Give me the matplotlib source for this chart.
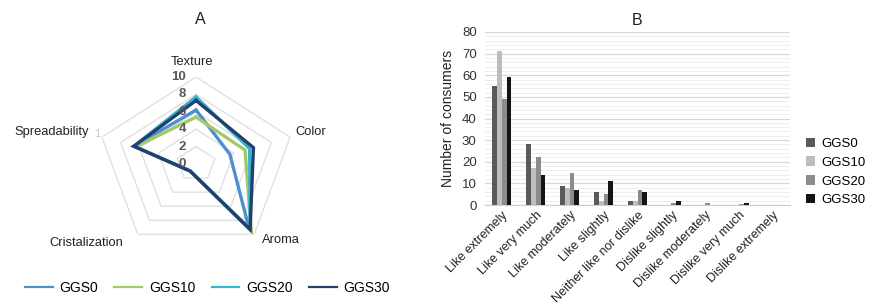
import numpy as np
import matplotlib
matplotlib.use("Agg")
import matplotlib.pyplot as plt
from matplotlib.lines import Line2D
from matplotlib.patches import Patch

plt.rcParams['font.family'] = ['Liberation Sans', 'DejaVu Sans']

# ---------------- data ----------------
attributes = ["Texture", "Color", "Aroma", "Cristalization", "Spreadability"]
samples = ["GGS0", "GGS10", "GGS20", "GGS30"]
radar_ggs0 = [6.2, 3.6, 9.1, 1.0, 6.6]
radar_ggs10 = [5.4, 5.2, 9.5, 1.0, 6.4]
radar_ggs20 = [7.7, 5.7, 9.3, 1.0, 6.6]
radar_ggs30 = [7.3, 6.1, 9.3, 1.0, 6.6]
radar_ticks = [0, 2, 4, 6, 8, 10]

hedonic = ["Like extremely", "Like very much", "Like moderately", "Like slightly",
           "Neither like nor dislike", "Dislike slightly", "Dislike moderately",
           "Dislike very much", "Dislike extremely"]
bar_ggs0 = [55, 28, 9, 6, 2, 0, 0, 0, 0]
bar_ggs10 = [71, 17, 8, 2, 2, 0, 0, 0, 0]
bar_ggs20 = [49, 22, 15, 5, 7, 1, 1, 0.3, 0]
bar_ggs30 = [59, 14, 7, 11, 6, 2, 0, 1, 0]

radar_colors = ["#4f8fcf", "#a3c96a", "#33b5cc", "#243f6e"]
bar_colors = ["#5a5a5a", "#bdbdbd", "#8c8c8c", "#141414"]

W, H = 872, 307
fig = plt.figure(figsize=(W / 100, H / 100), dpi=100)

def fx(px):
    return px / W

def fy(py):
    return 1 - py / H

# ---------------- radar (A) ----------------
cx, cy, rx, ry = 196, 164, 99, 87
ax = fig.add_axes([fx(cx - rx), fy(cy + ry), 2 * rx / W, 2 * ry / H], projection='polar')
ax.set_aspect('auto')
ax.set_theta_offset(np.pi / 2)
ax.set_theta_direction(-1)
ax.set_ylim(0, 10)
ax.grid(False)
ax.spines['polar'].set_visible(False)
ax.set_xticks([])
ax.set_yticks([])
ax.patch.set_alpha(0)

n = len(attributes)
theta = np.arange(n) * 2 * np.pi / n
theta_c = np.append(theta, theta[0])
for r in radar_ticks[1:]:
    ax.plot(theta_c, [r] * (n + 1), color="#e0e0e0", lw=1.0, zorder=1)

for vals, col in zip([radar_ggs0, radar_ggs10, radar_ggs20, radar_ggs30], radar_colors):
    v = list(vals) + [vals[0]]
    ax.plot(theta_c, v, color=col, lw=2.4, zorder=3, solid_joinstyle='miter')

for t in radar_ticks:
    ax.annotate(str(t), xy=(0, t), xytext=(-7, 0), textcoords='offset points',
                ha='right', va='center', fontsize=9.5, fontweight='bold',
                color="#595959", zorder=4)

label_pos = {
    "Texture": (192, 62, 'center'),
    "Color": (295, 132, 'left'),
    "Aroma": (262, 240, 'left'),
    "Cristalization": (123, 243, 'right'),
    "Spreadability": (89, 132, 'right'),
}
for name in attributes:
    px, py, ha = label_pos[name]
    fig.text(fx(px), fy(py), name, ha=ha, va='center', fontsize=9.3, color="#222222")
fig.text(fx(97), fy(134), "1", ha='center', va='center', fontsize=8, color="#c8c8c8")
fig.text(fx(200), fy(20), "A", ha='center', va='center', fontsize=11.5, color="#222222")

handles = [Line2D([0], [0], color=c, lw=1.6) for c in radar_colors]
fig.legend(handles, samples, loc='center left', bbox_to_anchor=(fx(25), fy(288)),
           ncol=4, frameon=False, fontsize=10, handlelength=2.0, handletextpad=0.5,
           columnspacing=1.15, borderaxespad=0, borderpad=0)

# ---------------- bars (B) ----------------
bx0, bx1, by0, by1 = 485, 790, 205, 32
bax = fig.add_axes([fx(bx0), fy(by0), (bx1 - bx0) / W, (by0 - by1) / H])
x = np.arange(len(hedonic))
bw = 0.14
for i, (vals, col, lab) in enumerate(zip([bar_ggs0, bar_ggs10, bar_ggs20, bar_ggs30],
                                          bar_colors, samples)):
    bax.bar(x + (i - 1.5) * bw, vals, width=bw, color=col, label=lab, zorder=3)

bax.set_xlim(-0.5, len(hedonic) - 0.5)
bax.set_ylim(0, 80)
bax.set_yticks(np.arange(0, 81, 10))
bax.set_yticks(np.arange(0, 81, 2), minor=True)
bax.grid(axis='y', which='major', color="#d8d8d8", lw=0.9, zorder=0)
bax.grid(axis='y', which='minor', color="#eeeeee", lw=0.7, zorder=0)
for s in ['top', 'right', 'left']:
    bax.spines[s].set_visible(False)
bax.spines['bottom'].set_color("#d0d0d0")
bax.tick_params(axis='both', which='both', length=0)
bax.tick_params(axis='y', labelsize=9.5, colors="#333333", pad=6)
bax.set_xticks(x)
bax.set_xticklabels(hedonic, rotation=45, ha='right', rotation_mode='anchor',
                    fontsize=9, color="#222222")
bax.tick_params(axis='x', pad=3)
bax.set_ylabel("Number of consumers", fontsize=10, color="#222222", labelpad=5)
bax.set_title("B", fontsize=11.5, color="#222222", pad=5)

bh = [Patch(facecolor=c) for c in bar_colors]
bax.legend(bh, samples, loc='center left', bbox_to_anchor=(fx(806), fy(172)),
           bbox_transform=fig.transFigure, frameon=False, fontsize=9.5,
           handlelength=0.7, handleheight=0.7, handletextpad=0.5, labelspacing=0.5,
           borderaxespad=0, borderpad=0)

fig.savefig("out.png", dpi=100)
